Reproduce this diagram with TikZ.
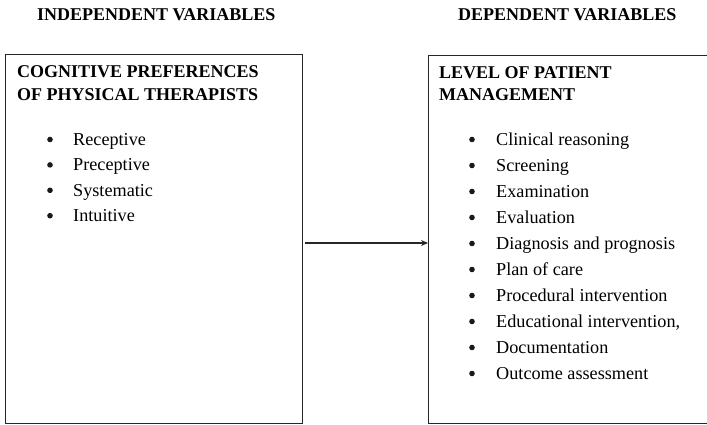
\documentclass[tikz,border=0pt]{standalone}
\usepackage{fontspec}
\setmainfont{Liberation Serif}
\usetikzlibrary{arrows.meta}
\begin{document}
\begin{tikzpicture}[x=1pt,y=-1pt,
  frame/.style={draw=black!85,line width=1.3pt,inner sep=0pt},
  txt/.style={anchor=base west,inner sep=0pt,font=\fontsize{18.2}{22}\selectfont},
  head/.style={txt,font=\fontsize{18}{22}\selectfont\bfseries},
  dot/.style={circle,fill=black!90,inner sep=0pt,minimum size=5.6pt},
  link/.style={draw=black!85,line width=1.2pt,-{Stealth[length=7pt,width=6pt]}}]
  \clip (0,0) rectangle (707,425);

  % column headings
  \node[head] (hind) at (37,21) {INDEPENDENT VARIABLES};
  \node[head] (hdep) at (458,21) {DEPENDENT VARIABLES};

  % the two boxes
  \node[frame,anchor=north west,minimum width=297pt,minimum height=369pt] (cog) at (5,54) {};
  \node[frame,anchor=north west,minimum width=295pt,minimum height=368pt] (lvl) at (428,55) {};

  % left box contents
  \node[head] (cogt1) at (17,78) {COGNITIVE PREFERENCES};
  \node[head] (cogt2) at (17,101) {OF PHYSICAL THERAPISTS};
  \foreach \t [count=\i from 0] in {Receptive,Preceptive,Systematic,Intuitive}{
    \node[dot] (cb\i) at (50,139.5+25.4*\i) {};
    \node[txt] (ci\i) at (73,145.5+25.4*\i) {\t};
  }

  % right box contents
  \node[head] (lvlt1) at (439,79) {LEVEL OF PATIENT};
  \node[head] (lvlt2) at (439,101) {MANAGEMENT};
  \foreach \t [count=\i from 0] in {Clinical reasoning,Screening,Examination,Evaluation,
      Diagnosis and prognosis,Plan of care,Procedural intervention,
      {Educational intervention,},Documentation,Outcome assessment}{
    \node[dot] (lb\i) at (472,139.5+26*\i) {};
    \node[txt] (li\i) at (496,145.5+26*\i) {\t};
  }

  % connector between the boxes
  \coordinate (a0) at (305,243);
  \draw[link] (a0) -- (a0 -| lvl.west);
\end{tikzpicture}
\end{document}
